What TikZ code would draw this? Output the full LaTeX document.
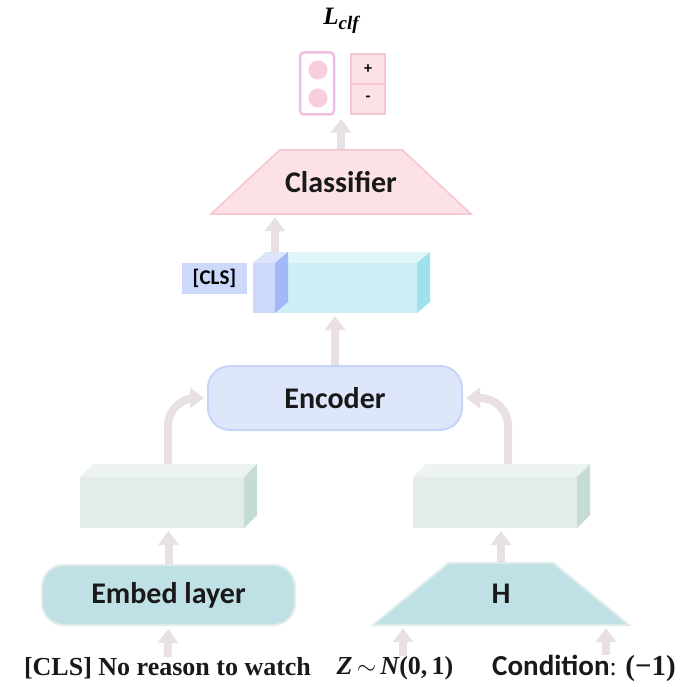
\documentclass[tikz,border=0pt]{standalone}
\usepackage{fontspec}
\setsansfont{Carlito}
\newfontfamily\inputfont{Liberation Serif}
\usetikzlibrary{arrows.meta}
\pgfdeclarelayer{back}
\pgfdeclarelayer{mid}
\pgfsetlayers{back,mid,main}
\definecolor{arrowc}{RGB}{232,224,228}
\definecolor{pinkf}{RGB}{252,226,229}
\definecolor{pinkd}{RGB}{246,198,208}
\definecolor{violetd}{RGB}{240,190,226}
\definecolor{dotc}{RGB}{249,204,222}
\definecolor{bluef}{RGB}{205,217,251}
\definecolor{blues}{RGB}{162,184,248}
\definecolor{bluet}{RGB}{220,229,252}
\definecolor{cyanf}{RGB}{205,238,245}
\definecolor{cyant}{RGB}{226,245,249}
\definecolor{cyans}{RGB}{160,225,238}
\definecolor{encf}{RGB}{221,230,250}
\definecolor{encd}{RGB}{198,212,248}
\definecolor{greenf}{RGB}{226,236,233}
\definecolor{greent}{RGB}{236,243,241}
\definecolor{greens}{RGB}{196,220,212}
\definecolor{tealf}{RGB}{191,224,228}
\definecolor{teald}{RGB}{222,237,236}
\tikzset{
  up/.style={draw=arrowc, line width=8pt, -{Triangle[width=20pt,length=14pt]}, shorten >=3pt},
  lbl/.style={font=\sffamily\bfseries\fontsize{30}{36}\selectfont, text=black!90},
  block/.style={lbl, rectangle, rounded corners=22pt, line width=2pt},
  face/.style={inner sep=0pt, outer sep=0pt},
  signbox/.style={draw=pinkd, fill=pinkf, line width=1.5pt, minimum width=34pt, minimum height=30pt,
    inner sep=0pt, font=\sffamily\bfseries\fontsize{16}{18}\selectfont},
  input/.style={inner sep=0pt, text=black!90, font=\inputfont\bfseries\fontsize{26}{30}\selectfont}
}
\begin{document}
\begin{tikzpicture}[x=1pt,y=-1pt]
\useasboundingbox (0,0) rectangle (686,687);
% output
\node[font=\inputfont\bfseries\itshape\fontsize{25}{30}\selectfont] (L) at (341,21)
  {L\raisebox{-5pt}{\fontsize{19}{20}\selectfont clf}};
\node[draw=violetd, line width=2.5pt, rounded corners=4pt, minimum width=34pt, minimum height=62pt] (P) at (317,83.5) {};
\fill[dotc] (318,70) circle (9.5);
\fill[dotc] (318,98) circle (9.5);
\node[signbox] (plus) at (368,69) {+};
\node[signbox] (minus) at (368,99) {-};
% classifier
\node[lbl, minimum width=122pt, minimum height=64pt, inner sep=0pt] (clf) at (341,182) {Classifier};
\begin{pgfonlayer}{mid}
\filldraw[fill=pinkf, draw=pinkd, line width=1.5pt] (clf.north west) -- (clf.north east)
  -- ([xshift=69pt]clf.south east) -- ([xshift=-69pt]clf.south west) -- cycle;
\end{pgfonlayer}
% sentence vectors
\node[face, fill=cyanf, minimum width=142pt, minimum height=50pt] (vec) at (346,288) {};
\fill[cyant] (vec.north west) -- ++(13,-11) -- ++(142,0) -- (vec.north east) -- cycle;
\fill[cyans] (vec.north east) -- ++(13,-11) -- ++(0,50) -- (vec.south east) -- cycle;
\node[face, fill=bluef, minimum width=22pt, minimum height=50pt] (cls) at (264,288) {};
\fill[bluet] (cls.north west) -- ++(13,-11) -- ++(22,0) -- (cls.north east) -- cycle;
\fill[blues] (cls.north east) -- ++(13,-11) -- ++(0,50) -- (cls.south east) -- cycle;
\node[fill=bluef, minimum width=65pt, minimum height=31pt, inner sep=0pt,
  font=\sffamily\bfseries\fontsize{21}{24}\selectfont] (clstag) at (214.5,278.5) {[CLS]};
% encoder
\node[block, fill=encf, draw=encd, minimum width=254pt, minimum height=64pt] (enc) at (335,398) {Encoder};
% token vectors
\node[face, fill=greenf, minimum width=164pt, minimum height=51pt] (lvec) at (162,502.5) {};
\fill[greent] (lvec.north west) -- ++(13,-13) -- ++(164,0) -- (lvec.north east) -- cycle;
\fill[greens] (lvec.north east) -- ++(13,-13) -- ++(0,51) -- (lvec.south east) -- cycle;
\node[face, fill=greenf, minimum width=164pt, minimum height=51pt] (rvec) at (495,502.5) {};
\fill[greent] (rvec.north west) -- ++(13,-13) -- ++(164,0) -- (rvec.north east) -- cycle;
\fill[greens] (rvec.north east) -- ++(13,-13) -- ++(0,51) -- (rvec.south east) -- cycle;
% embed and H
\node[block, fill=tealf, draw=teald, minimum width=253pt, minimum height=60pt] (emb) at (168.5,595) {Embed layer};
\node[lbl, minimum width=104pt, minimum height=62pt, inner sep=0pt] (H) at (501,594) {H};
\begin{pgfonlayer}{mid}
\filldraw[fill=tealf, draw=teald, line width=2pt] (H.north west) -- (H.north east)
  -- ([xshift=76pt]H.south east) -- ([xshift=-76pt]H.south west) -- cycle;
\end{pgfonlayer}
% inputs
\node[input] (sent) at (167.5,668) {[CLS] No reason to watch};
\node[input] (z) at (395,668) {\itshape Z\,$\sim$\,N\upshape(0,\,1)};
\node[input] (cond) at (584,668) {{\sffamily\fontsize{29}{32}\selectfont Condition}\mdseries: \bfseries\fontsize{29}{32}\selectfont(−1)};
\begin{pgfonlayer}{back}
\draw[up] (sent.north) -- (emb.south);
\draw[up] ([xshift=8pt]z.north) -- ([xshift=8pt]z.north |- H.south);
\draw[up] ([xshift=22pt]cond.north) -- ([xshift=22pt]cond.north |- H.south);
\draw[up] (emb.north) -- (emb.north |- lvec.south);
\draw[up] (H.north) -- (H.north |- rvec.south);
\draw[up, rounded corners=28pt] ([xshift=6pt]lvec.north) |- (enc.west);
\draw[up, rounded corners=28pt] ([xshift=13pt]rvec.north) |- (enc.east);
\draw[up] (enc.north) -- (enc.north |- vec.south);
\draw[up] (cls.north east) -- (cls.north east |- clf.south);
\draw[up] (clf.north) -- (clf.north |- P.south);
\end{pgfonlayer}
\end{tikzpicture}
\end{document}
